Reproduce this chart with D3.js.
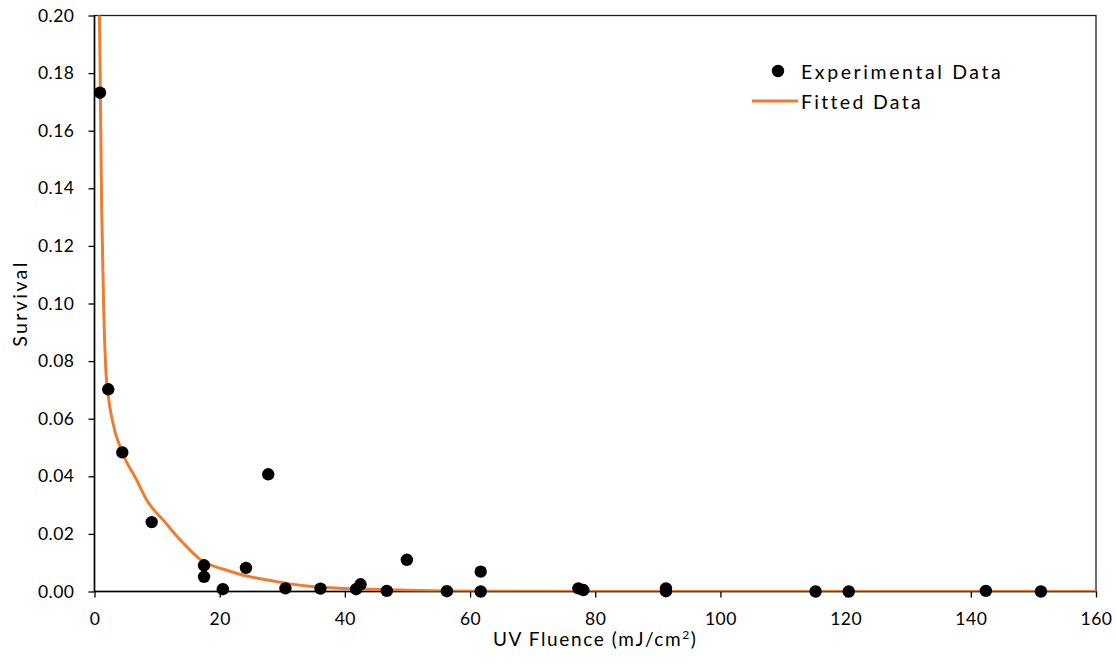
<!DOCTYPE html>
<html lang="en">
<head>
<meta charset="utf-8">
<script src="https://d3js.org/d3.v7.min.js"></script>
<style>
	body { margin: 0; background: #fff; }
	svg text { font-family: Lato, "Open Sans", sans-serif; fill: #000; }
	.tick text { font-size: 17.5px; letter-spacing: 0.5px; }
	.axis path, .axis line { stroke: #000; stroke-width: 1.3px; }
</style>
<title>UV survival</title>
</head>
<body>
<svg id="chart" width="1116" height="664"></svg>
<script>
	// experimental points
	var expX = [0.88, 2.2, 4.44, 9.14, 17.5, 17.5, 20.5, 24.2, 27.76, 30.5, 36.1, 41.8, 42.5, 46.7, 49.9, 56.3, 61.7, 61.7, 77.3, 78.1, 91.3, 91.3, 115.2, 120.5, 142.4, 151.2];
	var expY = [0.1732, 0.0702, 0.0483, 0.0241, 0.0091, 0.0051, 0.0008, 0.0082, 0.0407, 0.0011, 0.0010, 0.0008, 0.0025, 0.0002, 0.0110, 0.0001, 0.0069, 0.0000, 0.0011, 0.0005, 0.0011, 0.0001, 0.0000, 0.0000, 0.0002, 0.0000];

	// fitted curve
	var fitX = [0.6, 0.8, 1.15, 1.45, 1.79, 2.2, 2.85, 4.5, 6.74, 8.34, 11.3, 13.7, 17.4, 20.5, 23.2, 28.6, 33.9, 39.2, 48.8, 56, 65, 80, 160];
	var fitY = [0.27, 0.200, 0.1325, 0.100, 0.078, 0.068, 0.0594, 0.048, 0.0387, 0.0318, 0.024, 0.0179, 0.0103, 0.0078, 0.006, 0.0036, 0.0019, 0.0011, 0.0005, 0.0002, 0.0001, 0, 0];

	var xTicks = [0, 20, 40, 60, 80, 100, 120, 140, 160];
	var yTicks = [0, 0.02, 0.04, 0.06, 0.08, 0.10, 0.12, 0.14, 0.16, 0.18, 0.20];

	var svg = d3.select("#chart");
	var margin = {top: 15.5, right: 20, bottom: 72.5, left: 94.5};
	var width = 1096 - margin.left,
		height = 591.5 - margin.top;

	var g = svg.append("g").attr("transform", "translate(" + margin.left + "," + margin.top + ")");

	var x = d3.scaleLinear().domain([0, 160]).range([0, width]);
	var y = d3.scaleLinear().domain([0, 0.2]).range([height, 0]);

	g.append("clipPath").attr("id", "clip")
		.append("rect").attr("width", width).attr("height", height);

	// box
	g.append("rect")
		.attr("width", width).attr("height", height)
		.attr("fill", "none").attr("stroke", "#222").attr("stroke-width", 1.3);

	g.append("g")
		.attr("class", "axis")
		.attr("transform", "translate(0," + height + ")")
		.call(d3.axisBottom(x).tickValues(xTicks).tickSize(6).tickPadding(15).tickFormat(d3.format("d")))
		.call(function(a) { a.select(".domain").remove(); });

	g.append("g")
		.attr("class", "axis")
		.call(d3.axisLeft(y).tickValues(yTicks).tickSize(6).tickPadding(14).tickFormat(d3.format(".2f")))
		.call(function(a) { a.select(".domain").remove(); });

	g.append("line").attr("x1", 0).attr("x2", width).attr("y1", height).attr("y2", height)
		.attr("stroke", "#000").attr("stroke-width", 1.5);
	g.append("line").attr("x1", 0).attr("x2", 0).attr("y1", 0).attr("y2", height)
		.attr("stroke", "#000").attr("stroke-width", 1.5);

	var fit = fitX.map(function(d, i) { return {x: d, y: fitY[i]}; });
	var line = d3.line()
		.curve(d3.curveMonotoneX)
		.x(function(d) { return x(d.x); })
		.y(function(d) { return y(d.y); });

	g.append("path")
		.datum(fit)
		.attr("clip-path", "url(#clip)")
		.attr("fill", "none")
		.attr("stroke", "#ED7D31")
		.attr("stroke-width", 3)
		.attr("d", line);

	var pts = expX.map(function(d, i) { return {x: d, y: expY[i]}; });
	g.selectAll(".dot")
		.data(pts)
		.enter().append("circle")
		.attr("class", "dot")
		.attr("cx", function(d) { return x(d.x); })
		.attr("cy", function(d) { return y(d.y); })
		.attr("r", 6.2)
		.attr("fill", "#000");

	// axis titles
	svg.append("text")
		.attr("x", margin.left + width / 2).attr("y", 646)
		.attr("text-anchor", "middle")
		.style("font-size", "19px")
		.style("letter-spacing", "1.6px")
		.html("UV Fluence (mJ/cm<tspan baseline-shift='super' font-size='12px'>2</tspan>)");

	svg.append("text")
		.attr("transform", "translate(27," + (margin.top + height / 2) + ") rotate(-90)")
		.attr("text-anchor", "middle")
		.style("font-size", "19.5px")
		.style("letter-spacing", "2.4px")
		.text("Survival");

	// legend
	var lg = svg.append("g").attr("transform", "translate(752,0)");
	lg.append("circle").attr("cx", 26).attr("cy", 71).attr("r", 6.2).attr("fill", "#000");
	lg.append("text").attr("x", 49).attr("y", 78.5)
		.style("font-size", "19.5px").style("letter-spacing", "2.6px")
		.text("Experimental Data");
	lg.append("line").attr("x1", 0).attr("x2", 46).attr("y1", 101).attr("y2", 101)
		.attr("stroke", "#ED7D31").attr("stroke-width", 3);
	lg.append("text").attr("x", 49).attr("y", 108.5)
		.style("font-size", "19.5px").style("letter-spacing", "2.3px")
		.text("Fitted Data");
</script>
</body>
</html>
